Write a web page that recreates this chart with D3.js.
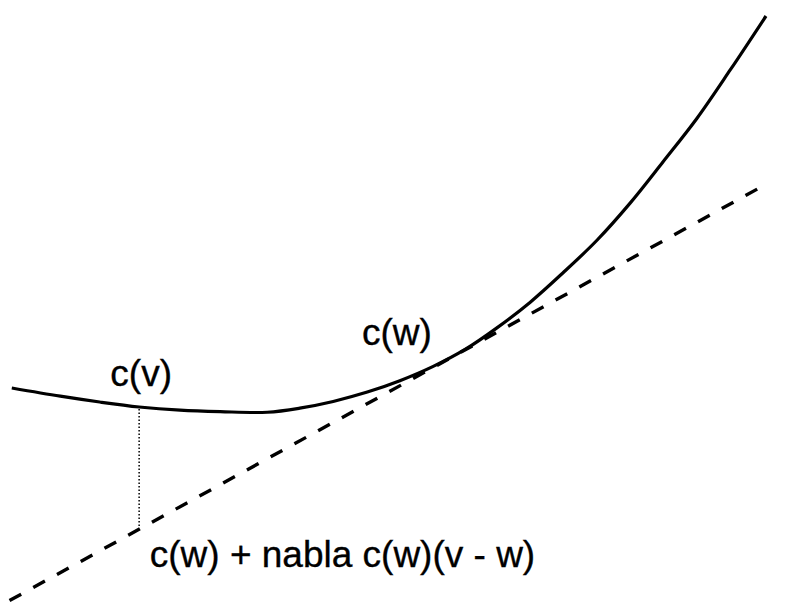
<!DOCTYPE html>
<html>
<head>
<meta charset="utf-8">
<script src="https://cdn.jsdelivr.net/npm/d3@7"></script>
<style>
  html, body { margin: 0; padding: 0; background: #fff; }
  svg { display: block; }
  text { font-family: "Liberation Sans", Arial, Helvetica, sans-serif; font-size: 37px; fill: #000; stroke: #000; stroke-width: 0.35px; }
</style>
</head>
<body>
<svg id="chart" width="788" height="616"></svg>
<script>
// cost curve c(.) sampled points (abstract units)
const curveX = [0.5, 6.9, 12.1, 17.3, 22.7, 28.0, 34.2, 38.5, 42.9, 47.4, 51.7, 56.1, 60.3, 64.5, 68.9, 73.2, 77.7, 82.1, 86.4, 90.9, 95.3, 100];
const curveY = [36.3, 34.9, 33.9, 33.05, 32.5, 32.25, 32.15, 32.85, 34.0, 35.6, 37.55, 40.0, 42.9, 46.6, 51.0, 56.0, 61.6, 68.0, 75.0, 82.5, 90.8, 100];
// tangent line endpoints c(w) + nabla c(w)(v - w)
const tangentX = [0.2, 98.9];
const tangentY = [-0.1, 70.4];
// evaluation point v
const pointV = [17.3];
// labels
const labels = ["c(v)", "c(w)", "c(w) + nabla c(w)(v - w)"];
const labelX = [13.5, 46.7, 18.7];
const labelY = [36.6, 43.6, 5.6];

const svg = d3.select("#chart");
const x = d3.scaleLinear().domain([0, 100]).range([8, 766]);
const y = d3.scaleLinear().domain([0, 100]).range([600, 16]);

const curveData = curveX.map((v, i) => [v, curveY[i]]);
const line = d3.line().x(d => x(d[0])).y(d => y(d[1])).curve(d3.curveCatmullRom.alpha(0.5));

// tangent (dashed)
const tanData = tangentX.map((v, i) => [v, tangentY[i]]);
svg.append("path")
  .datum(tanData)
  .attr("d", d3.line().x(d => x(d[0])).y(d => y(d[1])))
  .attr("fill", "none")
  .attr("stroke", "#000")
  .attr("stroke-width", 3.4)
  .attr("stroke-dasharray", "13.3,13.8");

// curve
svg.append("path")
  .datum(curveData)
  .attr("d", line)
  .attr("fill", "none")
  .attr("stroke", "#000")
  .attr("stroke-width", 3.2);

// dotted vertical at v
const slope = (tangentY[1] - tangentY[0]) / (tangentX[1] - tangentX[0]);
const interpCurve = v => {
  for (let i = 0; i < curveX.length - 1; i++) {
    if (v >= curveX[i] && v <= curveX[i + 1]) {
      const t = (v - curveX[i]) / (curveX[i + 1] - curveX[i]);
      return curveY[i] + t * (curveY[i + 1] - curveY[i]);
    }
  }
  return curveY[0];
};
pointV.forEach(v => {
  svg.append("line")
    .attr("x1", x(v)).attr("x2", x(v))
    .attr("y1", y(interpCurve(v)) + 2)
    .attr("y2", y(tangentY[0] + slope * (v - tangentX[0])) - 3)
    .attr("stroke", "#000")
    .attr("stroke-width", 1.5)
    .attr("stroke-dasharray", "1.5,2");
});

// labels
svg.selectAll("text.lbl")
  .data(labels)
  .enter().append("text")
  .attr("class", "lbl")
  .attr("x", (d, i) => x(labelX[i]))
  .attr("y", (d, i) => y(labelY[i]))
  .text(d => d);
</script>
</body>
</html>
